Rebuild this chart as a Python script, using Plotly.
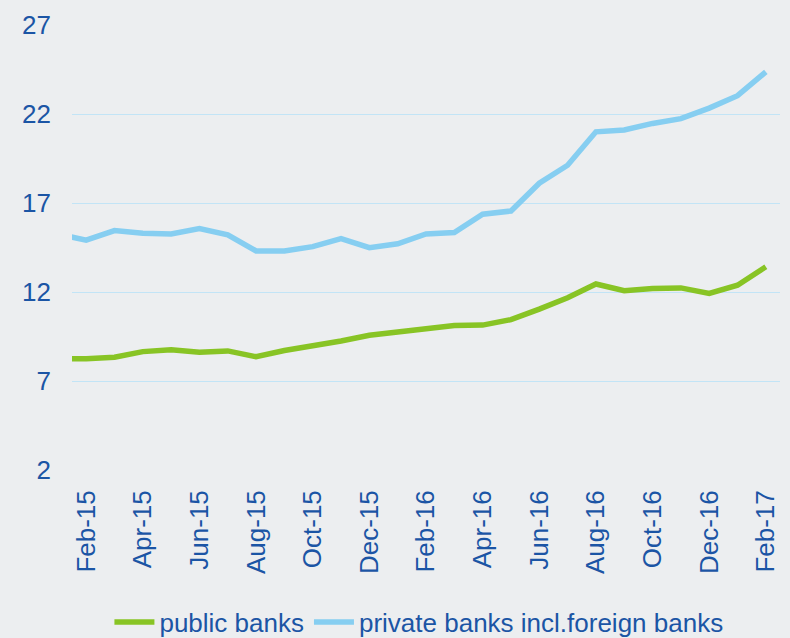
import plotly.graph_objects as go

months = ["Jan-15", "Feb-15", "Mar-15", "Apr-15", "May-15", "Jun-15", "Jul-15", "Aug-15",
          "Sep-15", "Oct-15", "Nov-15", "Dec-15", "Jan-16", "Feb-16", "Mar-16", "Apr-16",
          "May-16", "Jun-16", "Jul-16", "Aug-16", "Sep-16", "Oct-16", "Nov-16", "Dec-16",
          "Jan-17", "Feb-17"]

public_banks = [8.25, 8.25, 8.34, 8.65, 8.76, 8.61, 8.69, 8.36, 8.71, 8.96, 9.25, 9.57, 9.75,
                9.90, 10.12, 10.14, 10.45, 11.04, 11.68, 12.45, 12.07, 12.20, 12.23, 11.92,
                12.38, 13.42]

private_banks = [15.25, 14.91, 15.45, 15.30, 15.26, 15.56, 15.21, 14.31, 14.31, 14.55, 15.00,
                 14.49, 14.71, 15.26, 15.34, 16.37, 16.55, 18.11, 19.12, 21.00, 21.10, 21.47,
                 21.74, 22.33, 23.03, 24.37]

x_ticks = ["Feb-15", "Apr-15", "Jun-15", "Aug-15", "Oct-15", "Dec-15", "Feb-16", "Apr-16",
           "Jun-16", "Aug-16", "Oct-16", "Dec-16", "Feb-17"]
y_ticks = [2, 7, 12, 17, 22, 27]

TXT = "#1B55A5"
BG = "#ECEEF0"
GRID = "#C2E4F6"
FONT = "Liberation Sans, Arial, sans-serif"

fig = go.Figure()
fig.add_trace(go.Scatter(x=months, y=public_banks, mode="lines", name="public banks",
                         line=dict(color="#88C425", width=5.5)))
fig.add_trace(go.Scatter(x=months, y=private_banks, mode="lines",
                         name="private banks incl.foreign banks",
                         line=dict(color="#86CEF1", width=5.5)))

fig.update_layout(
    width=790, height=638,
    margin=dict(l=72, r=10, t=16, b=168),
    paper_bgcolor=BG, plot_bgcolor=BG,
    font=dict(family=FONT, size=26, color=TXT),
    showlegend=True,
    legend=dict(orientation="h", xref="paper", x=0.49, xanchor="center",
                yref="container", y=0.025, yanchor="middle",
                font=dict(size=26, color=TXT), itemwidth=40,
                tracegroupgap=0, bgcolor="rgba(0,0,0,0)"),
    xaxis=dict(type="category", categoryorder="array", categoryarray=months,
               range=[0.5, 25.5], tickmode="array", tickvals=x_ticks, ticktext=x_ticks,
               tickangle=-90, showgrid=False, zeroline=False, showline=False,
               ticks="", ticklabelstandoff=14,
               tickfont=dict(size=26, color=TXT, family=FONT)),
    yaxis=dict(range=[2, 27], tickmode="array", tickvals=y_ticks,
               showgrid=True, gridcolor=GRID, gridwidth=1.3, zeroline=False,
               showline=False, ticks="", ticklabelstandoff=20,
               tickfont=dict(size=26, color=TXT, family=FONT)),
)

fig.write_html("out.html")
